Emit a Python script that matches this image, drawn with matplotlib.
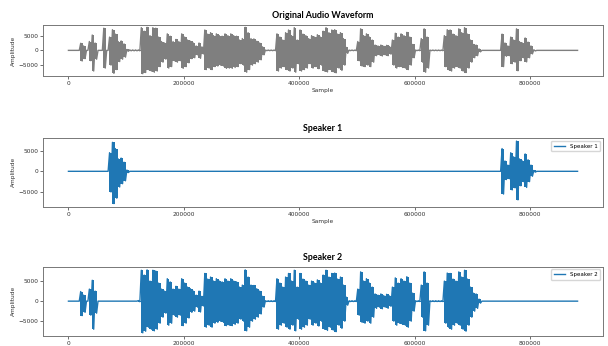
import numpy as np
import matplotlib
matplotlib.use("Agg")
import matplotlib.pyplot as plt

N_SAMPLES = 882000
BLOCK = 5000

env_top = [
    0, 0, 0, 0, 2400, 1500, 0, 3000, 5200, 2500,
    0, 0, 7500, 0, 4500, 7000, 5500, 3000, 3200, 2200,
    300, 150, 150, 150, 150, 7700, 6500, 7800, 5000, 7700,
    7500, 4500, 3000, 2500, 5600, 4800, 3000, 3700, 3000, 5600,
    4500, 3500, 3100, 2500, 1500, 2500, 1200, 6900, 5500, 6000,
    5000, 5600, 5000, 4800, 5600, 5000, 5600, 5000, 4800, 3500,
    4000, 7800, 6000, 4000, 3900, 3100, 2500, 1200, 100, 100,
    100, 100, 5600, 4500, 3500, 6000, 6900, 5000, 7700, 3500,
    6900, 5500, 5000, 4000, 5000, 4500, 5300, 4500, 6500, 7700,
    6000, 6900, 7000, 5500, 6000, 4000, 1000, 100, 100, 100,
    3000, 7300, 5000, 5600, 4500, 3500, 1800, 1500, 1800, 1400,
    1700, 1300, 3500, 5800, 4500, 5600, 5000, 6100, 4500, 2000,
    100, 100, 4000, 7300, 4500, 100, 100, 100, 100, 100,
    5000, 7000, 6900, 5500, 5000, 7300, 6000, 7700, 5500, 3500,
    2000, 1800, 500, 0, 0, 0, 0, 0, 0, 0,
    5500, 2500, 1500, 4500, 3500, 7300, 3000, 2500, 4200, 2800,
    1500, 200, 0, 0, 0, 0, 0, 0, 0, 0,
    0, 0, 0, 0, 0, 0,
]
env_bot = [
    0, 0, 0, 0, -3600, -2800, 0, -3500, -7000, -3000,
    0, 0, -6000, 0, -5000, -7800, -6500, -3800, -3000, -2300,
    -300, -150, -150, -150, -150, -7900, -7500, -6500, -7000, -7400,
    -7000, -5500, -4000, -3000, -6000, -5500, -3500, -4000, -3500, -6100,
    -5500, -4200, -2800, -2500, -1500, -2700, -1200, -6500, -6000, -6500,
    -5500, -5300, -5000, -5300, -6100, -6000, -6100, -5800, -5500, -4500,
    -5000, -7400, -6500, -5000, -4500, -4000, -3200, -1500, -100, -100,
    -100, -100, -7000, -6000, -5500, -6500, -7000, -6000, -7400, -4500,
    -7000, -6500, -6000, -4500, -6000, -5500, -6200, -5000, -7000, -7300,
    -6500, -7200, -7600, -6000, -6800, -5000, -1000, -100, -100, -100,
    -3500, -5300, -5500, -5000, -5500, -4000, -1800, -1500, -1900, -1500,
    -1800, -1300, -5000, -6000, -5500, -5800, -6000, -6500, -5000, -2500,
    -100, -100, -4000, -7400, -6000, -100, -100, -100, -100, -100,
    -5500, -6500, -7000, -6000, -5500, -6000, -7000, -7500, -6000, -4000,
    -2500, -1800, -500, 0, 0, 0, 0, 0, 0, 0,
    -5500, -2000, -1800, -4500, -4000, -6900, -3500, -2500, -3900, -2500,
    -1200, -200, 0, 0, 0, 0, 0, 0, 0, 0,
    0, 0, 0, 0, 0, 0,
]

# diarization segments (start, end) in samples
speaker1_segments = [(70000, 105000), (750000, 810000)]
speaker2_segments = [(15000, 55000), (120000, 715000)]

GRAY = "#7f7f7f"
BLUE = "#1f77b4"

top = np.array(env_top, dtype=float)
bot = np.array(env_bot, dtype=float)
starts = np.arange(len(top)) * BLOCK


def seg_mask(segments):
    mid = starts + BLOCK / 2
    m = np.zeros(len(starts), dtype=bool)
    for a, b in segments:
        m |= (mid >= a) & (mid < b)
    return m


def draw_wave(ax, mask, color, label=None):
    t = np.where(mask, top, 0.0)
    b = np.where(mask, bot, 0.0)
    # solid body of the waveform, block by block
    xe = np.append(starts, starts[-1] + BLOCK)
    ax.fill_between(xe, np.append(t, t[-1]), np.append(b, b[-1]),
                    step="post", color=color, lw=0)
    # zig-zag between block peaks for the jagged edge + the silent baseline
    x = np.column_stack([starts + BLOCK * 0.25, starts + BLOCK * 0.75]).ravel()
    y = np.column_stack([t, b]).ravel()
    x = np.concatenate([[0], x, [N_SAMPLES]])
    y = np.concatenate([[0], y, [0]])
    line, = ax.plot(x, y, color=color, lw=1.0, label=label)
    return line


def style(ax, title, xlabel=True):
    ax.set_title(title, fontsize=6.4, fontweight="bold", family="Lato", pad=5)
    if xlabel:
        ax.set_xlabel("Sample", fontsize=4.2, labelpad=1.5, color="#333333")
    ax.set_ylabel("Amplitude", fontsize=4.2, labelpad=2, color="#333333")
    ax.tick_params(labelsize=4.2, length=2, width=0.5, pad=1.5, colors="#333333")
    ax.set_xticks([0, 200000, 400000, 600000, 800000])
    ax.set_yticks([-5000, 0, 5000])
    for s in ax.spines.values():
        s.set_color("#777777")
        s.set_linewidth(0.7)


def add_legend(ax, line):
    ax.legend(handles=[line], loc="upper right", fontsize=4, handlelength=2.0,
              borderpad=0.5, borderaxespad=0.5, handletextpad=0.8)


fig = plt.figure(figsize=(6.08, 3.46), dpi=100)
ax0 = fig.add_axes([0.0707, 0.7803, 0.9211, 0.1474])
ax1 = fig.add_axes([0.0707, 0.4026, 0.9211, 0.1986])
ax2 = fig.add_axes([0.0707, 0.0289, 0.9211, 0.2003])

draw_wave(ax0, np.ones(len(starts), dtype=bool), GRAY)
style(ax0, "Original Audio Waveform")

ln1 = draw_wave(ax1, seg_mask(speaker1_segments), BLUE, "Speaker 1")
style(ax1, "Speaker 1")
add_legend(ax1, ln1)

ln2 = draw_wave(ax2, seg_mask(speaker2_segments), BLUE, "Speaker 2")
style(ax2, "Speaker 2", xlabel=False)
add_legend(ax2, ln2)

fig.savefig("out.png", dpi=100)
